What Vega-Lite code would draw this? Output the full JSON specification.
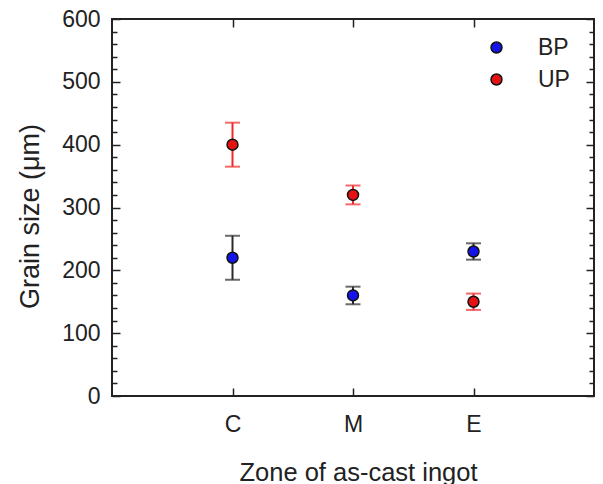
{
  "$schema": "https://vega.github.io/schema/vega-lite/v6.json",
  "width": 482,
  "height": 377,
  "autosize": "none",
  "padding": {"left": 112, "top": 19, "right": 9, "bottom": 88},
  "config": {
    "view": {"stroke": "#222", "strokeWidth": 2},
    "font": "Liberation Sans",
    "axis": {
      "grid": false,
      "domain": false,
      "tickColor": "#222",
      "tickWidth": 1.5,
      "labelColor": "#222",
      "titleColor": "#222",
      "labelFont": "Liberation Sans",
      "titleFont": "Liberation Sans",
      "labelFontSize": 23,
      "titleFontWeight": "normal",
      "labelOverlap": false
    }
  },
  "data": {
    "values": [
      {"zone": "C", "series": "BP", "mean": 220, "lo": 185, "hi": 255},
      {"zone": "M", "series": "BP", "mean": 160, "lo": 146, "hi": 174},
      {"zone": "E", "series": "BP", "mean": 230, "lo": 217, "hi": 243},
      {"zone": "C", "series": "UP", "mean": 400, "lo": 365, "hi": 435},
      {"zone": "M", "series": "UP", "mean": 320, "lo": 305, "hi": 335},
      {"zone": "E", "series": "UP", "mean": 150, "lo": 137, "hi": 163}
    ]
  },
  "layer": [
    {
      "encoding": {
        "x": {
          "field": "zone",
          "type": "ordinal",
          "title": "Zone of as-cast ingot",
          "scale": {"type": "point", "domain": ["C", "M", "E"], "padding": 1},
          "axis": {
            "orient": "bottom",
            "labelAngle": 0,
            "ticks": true,
            "tickSize": -8,
            "labelPadding": 25,
            "labelOverlap": false,
            "title": "Zone of as-cast ingot",
            "titleFontSize": 25.5,
            "titleBaseline": "alphabetic",
            "titleX": 246,
            "titleY": 84
          }
        }
      },
      "layer": [
        {
          "transform": [{"filter": "datum.series === 'BP'"}],
          "mark": {"type": "errorbar", "ticks": true, "size": 15, "thickness": 2, "color": "#2b2b2b"},
          "encoding": {
            "y": {
              "field": "lo",
              "type": "quantitative",
              "title": "Grain size (μm)",
              "scale": {"domain": [0, 600], "nice": false},
              "axis": {
                "orient": "left",
                "values": [0, 100, 200, 300, 400, 500, 600],
                "tickCount": 40,
                "ticks": false,
                "labelOverlap": false,
                "labelPadding": 12,
                "title": "Grain size (μm)",
                "titleFontSize": 27,
                "titleBaseline": "alphabetic",
                "titleX": -74,
                "titleY": 197
              }
            },
            "y2": {"field": "hi"}
          }
        },
        {
          "transform": [{"filter": "datum.series === 'UP'"}],
          "mark": {"type": "errorbar", "ticks": true, "size": 15, "thickness": 2, "color": "#ee2a2a"},
          "encoding": {
            "y": {"field": "lo", "type": "quantitative", "title": "Grain size (μm)"},
            "y2": {"field": "hi"}
          }
        },
        {
          "mark": {"type": "point", "shape": "circle", "filled": true, "size": 120, "stroke": "#111", "strokeWidth": 1.5, "opacity": 1},
          "encoding": {
            "y": {"field": "mean", "type": "quantitative", "title": "Grain size (μm)"},
            "fill": {
              "field": "series",
              "type": "nominal",
              "scale": {"domain": ["BP", "UP"], "range": ["#1414ea", "#e41212"]},
              "legend": {
                "orient": "none",
                "legendX": 373,
                "legendY": 17,
                "title": null,
                "padding": 0,
                "labelFontSize": 23,
                "labelFont": "Liberation Sans",
                "labelColor": "#222",
                "labelOffset": 30,
                "rowPadding": 8,
                "symbolType": "circle",
                "symbolSize": 120,
                "symbolStrokeColor": "#111",
                "symbolStrokeWidth": 1.5
              }
            }
          }
        }
      ]
    },
    {
      "mark": {"type": "point", "opacity": 0},
      "encoding": {
        "x": {
          "field": "zone",
          "type": "ordinal",
          "scale": {"type": "point", "domain": ["C", "M", "E"], "padding": 1},
          "axis": {"orient": "top", "labels": false, "ticks": true, "tickSize": -8, "title": null}
        },
        "y": {
          "field": "mean",
          "type": "quantitative",
          "scale": {"domain": [0, 600], "nice": false},
          "axis": {
            "orient": "right",
            "labels": false,
            "title": null,
            "values": [0,20,40,60,80,100,120,140,160,180,200,220,240,260,280,300,320,340,360,380,400,420,440,460,480,500,520,540,560,580,600],
            "tickCount": 40,
            "tickSize": {"condition": {"test": "datum.value % 100 === 0", "value": -8}, "value": -5}
          }
        }
      }
    },
    {
      "mark": {"type": "point", "opacity": 0},
      "encoding": {
        "y": {
          "field": "mean",
          "type": "quantitative",
          "scale": {"domain": [0, 600], "nice": false},
          "axis": {
            "orient": "left",
            "labels": false,
            "title": null,
            "values": [0,20,40,60,80,100,120,140,160,180,200,220,240,260,280,300,320,340,360,380,400,420,440,460,480,500,520,540,560,580,600],
            "tickCount": 40,
            "tickSize": {"condition": {"test": "datum.value % 100 === 0", "value": -8}, "value": -5}
          }
        }
      }
    }
  ],
  "resolve": {"scale": {"x": "independent", "y": "independent"}}
}
